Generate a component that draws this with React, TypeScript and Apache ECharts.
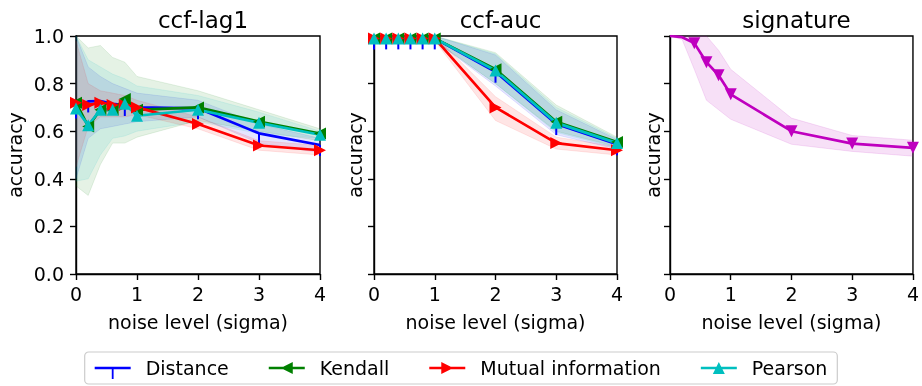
import React, { useEffect, useRef } from "react";
import * as echarts from "echarts";

const noiseLevels = [0, 0.2, 0.4, 0.6, 0.8, 1, 2, 3, 4];
const xTicks = [0, 1, 2, 3, 4];
const yTicks = [0, 0.2, 0.4, 0.6, 0.8, 1.0];
const panelTitles = ["ccf-lag1", "ccf-auc", "signature"];
const methodNames = ["Distance", "Kendall", "Mutual information", "Pearson"];

// ccf-lag1
const lagDistance = [0.7, 0.725, 0.727, 0.715, 0.71, 0.7, 0.696, 0.591, 0.542];
const lagDistanceHi = [1.0, 0.87, 0.83, 0.8, 0.78, 0.76, 0.73, 0.63, 0.57];
const lagDistanceLo = [0.4, 0.57, 0.61, 0.62, 0.63, 0.64, 0.66, 0.55, 0.51];
const lagKendall = [0.72, 0.62, 0.69, 0.69, 0.735, 0.69, 0.7, 0.64, 0.59];
const lagKendallHi = [1.0, 0.95, 0.96, 0.91, 0.89, 0.83, 0.77, 0.69, 0.61];
const lagKendallLo = [0.37, 0.33, 0.46, 0.55, 0.55, 0.575, 0.645, 0.6, 0.56];
const lagMI = [0.72, 0.71, 0.72, 0.71, 0.71, 0.7, 0.63, 0.54, 0.52];
const lagMIHi = [0.98, 0.8, 0.77, 0.76, 0.75, 0.73, 0.66, 0.56, 0.54];
const lagMILo = [0.45, 0.62, 0.66, 0.66, 0.66, 0.67, 0.61, 0.52, 0.5];
const lagPearson = [0.695, 0.625, 0.69, 0.69, 0.715, 0.665, 0.69, 0.635, 0.585];
const lagPearsonHi = [1.0, 0.9, 0.87, 0.84, 0.82, 0.79, 0.75, 0.68, 0.6];
const lagPearsonLo = [0.39, 0.4, 0.5, 0.57, 0.58, 0.6, 0.64, 0.59, 0.57];

// ccf-auc
const aucDistance = [0.99, 0.99, 0.99, 0.99, 0.99, 0.99, 0.85, 0.63, 0.545];
const aucDistanceHi = [1, 1, 1, 1, 1, 1, 0.92, 0.69, 0.565];
const aucDistanceLo = [0.98, 0.98, 0.98, 0.98, 0.98, 0.98, 0.79, 0.585, 0.525];
const aucKendall = [0.99, 0.99, 0.99, 0.99, 0.99, 0.99, 0.86, 0.64, 0.555];
const aucKendallHi = [1, 1, 1, 1, 1, 1, 0.93, 0.71, 0.575];
const aucKendallLo = [0.98, 0.98, 0.98, 0.98, 0.98, 0.98, 0.8, 0.6, 0.535];
const aucMI = [0.99, 0.99, 0.99, 0.99, 0.99, 0.99, 0.7, 0.55, 0.52];
const aucMIHi = [1, 1, 1, 1, 1, 1, 0.745, 0.575, 0.535];
const aucMILo = [0.98, 0.98, 0.98, 0.98, 0.98, 0.98, 0.645, 0.525, 0.5];
const aucPearson = [0.99, 0.99, 0.99, 0.99, 0.99, 0.99, 0.855, 0.635, 0.55];
const aucPearsonHi = [1, 1, 1, 1, 1, 1, 0.925, 0.7, 0.57];
const aucPearsonLo = [0.98, 0.98, 0.98, 0.98, 0.98, 0.98, 0.8, 0.595, 0.53];

// signature
const sigMean = [1.0, 0.995, 0.97, 0.89, 0.835, 0.755, 0.6, 0.548, 0.53];
const sigHi = [1.0, 1.0, 1.0, 1.0, 0.94, 0.86, 0.655, 0.582, 0.562];
const sigLo = [1.0, 0.985, 0.86, 0.73, 0.69, 0.65, 0.545, 0.515, 0.495];

const FONT = "DejaVu Sans";
const COLORS: Record<string, string> = {
  Distance: "#0000ff",
  Kendall: "#008000",
  "Mutual information": "#ff0000",
  Pearson: "#00bfbf",
  signature: "#bf00bf",
};
const BAND_RGB: Record<string, string> = {
  Distance: "0,0,255",
  Kendall: "0,128,0",
  "Mutual information": "255,0,0",
  Pearson: "0,191,191",
  signature: "191,0,191",
};

const MARKERS: Record<string, any> = {
  Distance: { symbol: "rect", symbolSize: [2, 11], symbolOffset: [0, 5.5], symbolRotate: 0 },
  Kendall: { symbol: "triangle", symbolSize: 12, symbolOffset: [0, 0], symbolRotate: 90 },
  "Mutual information": { symbol: "triangle", symbolSize: 12, symbolOffset: [0, 0], symbolRotate: -90 },
  Pearson: { symbol: "triangle", symbolSize: 12, symbolOffset: [0, 0], symbolRotate: 0 },
  signature: { symbol: "triangle", symbolSize: 12, symbolOffset: [0, 0], symbolRotate: 180 },
};

// legend handles: line + marker, drawn in a 36 x 22 box
const BOX = "M18,0h0.01v0.01h-0.01Z M18,21.99h0.01v0.01h-0.01Z ";
const LINE = "M0,9.65H36V12.35H0Z ";
const LEGEND_ICONS: Record<string, string> = {
  Distance: "path://" + BOX + LINE + "M17.1,9.65H18.9V22H17.1Z",
  Kendall: "path://" + BOX + LINE + "M12,11L24,5L24,17Z",
  "Mutual information": "path://" + BOX + LINE + "M24,11L12,17L12,5Z",
  Pearson: "path://" + BOX + LINE + "M18,5L24,17L12,17Z",
};

const panelData: { name: string; mean: number[]; hi: number[]; lo: number[] }[][] = [
  [
    { name: "Distance", mean: lagDistance, hi: lagDistanceHi, lo: lagDistanceLo },
    { name: "Kendall", mean: lagKendall, hi: lagKendallHi, lo: lagKendallLo },
    { name: "Mutual information", mean: lagMI, hi: lagMIHi, lo: lagMILo },
    { name: "Pearson", mean: lagPearson, hi: lagPearsonHi, lo: lagPearsonLo },
  ],
  [
    { name: "Distance", mean: aucDistance, hi: aucDistanceHi, lo: aucDistanceLo },
    { name: "Kendall", mean: aucKendall, hi: aucKendallHi, lo: aucKendallLo },
    { name: "Mutual information", mean: aucMI, hi: aucMIHi, lo: aucMILo },
    { name: "Pearson", mean: aucPearson, hi: aucPearsonHi, lo: aucPearsonLo },
  ],
  [{ name: "signature", mean: sigMean, hi: sigHi, lo: sigLo }],
];

const grids = [
  { left: 76, top: 36, width: 244, height: 238 },
  { left: 374, top: 36, width: 243, height: 238 },
  { left: 670, top: 36, width: 243, height: 238 },
];
const yNameGaps = [52, 10, 8];

function buildOption() {
  const series: any[] = [];
  panelData.forEach((panel, p) => {
    panel.forEach((s) => {
      const hi = s.hi;
      const lo = s.lo;
      const alpha = s.name === "signature" ? 0.12 : 0.1;
      series.push({
        type: "custom",
        name: `${s.name} band ${p}`,
        xAxisIndex: p,
        yAxisIndex: p,
        silent: true,
        z: 1,
        data: [[0, 0]],
        renderItem: (params: any, api: any) => {
          const upper = noiseLevels.map((x, i) => api.coord([x, hi[i]]));
          const lower = noiseLevels.map((x, i) => api.coord([x, lo[i]])).reverse();
          return {
            type: "polygon",
            shape: { points: upper.concat(lower) },
            style: {
              fill: `rgba(${BAND_RGB[s.name]},${alpha})`,
              stroke: `rgba(${BAND_RGB[s.name]},${alpha})`,
              lineWidth: 1,
            },
          };
        },
      });
    });
    panel.forEach((s) => {
      const m = MARKERS[s.name];
      const hideTop = s.name === "signature";
      series.push({
        type: "line",
        name: s.name,
        xAxisIndex: p,
        yAxisIndex: p,
        z: 3,
        data: noiseLevels.map((x, i) =>
          hideTop && s.mean[i] >= 0.99
            ? { value: [x, s.mean[i]], symbol: "none" }
            : { value: [x, s.mean[i]] }
        ),
        symbol: m.symbol,
        symbolSize: m.symbolSize,
        symbolOffset: m.symbolOffset,
        symbolRotate: m.symbolRotate,
        showAllSymbol: true,
        clip: true,
        lineStyle: { color: COLORS[s.name], width: 2.7 },
        itemStyle: { color: COLORS[s.name], borderWidth: 0 },
      });
    });
  });

  return {
    animation: false,
    textStyle: { fontFamily: FONT },
    title: panelTitles.map((t, i) => ({
      text: t,
      left: grids[i].left + grids[i].width / 2,
      top: 3,
      textAlign: "center",
      textStyle: { fontFamily: FONT, fontSize: 23, fontWeight: "normal", color: "#000" },
    })),
    legend: {
      data: methodNames.map((n) => ({ name: n, icon: LEGEND_ICONS[n] })),
      left: "center",
      bottom: 2,
      orient: "horizontal",
      itemWidth: 36,
      itemHeight: 22,
      itemGap: 40,
      padding: [5, 10],
      borderColor: "#cccccc",
      borderWidth: 1.2,
      borderRadius: 4,
      textStyle: { fontFamily: FONT, fontSize: 19, color: "#000", padding: [0, 0, 0, 10] },
    },
    grid: grids.map((g) => ({
      ...g,
      show: true,
      borderColor: "#000",
      borderWidth: 1.4,
      backgroundColor: "transparent",
      containLabel: false,
    })),
    xAxis: grids.map((_, i) => ({
      type: "value",
      gridIndex: i,
      min: xTicks[0],
      max: xTicks[xTicks.length - 1],
      interval: 1,
      name: "noise level (sigma)",
      nameLocation: "middle",
      nameGap: 38,
      nameTextStyle: { fontFamily: FONT, fontSize: 19, color: "#000" },
      axisLine: { show: true, lineStyle: { color: "#000", width: 1.4 } },
      axisTick: { show: true, inside: false, length: 6, lineStyle: { color: "#000", width: 1.4 } },
      axisLabel: { show: true, margin: 10, fontFamily: FONT, fontSize: 19, color: "#000" },
      splitLine: { show: false },
    })),
    yAxis: grids.map((_, i) => ({
      type: "value",
      gridIndex: i,
      min: yTicks[0],
      max: yTicks[yTicks.length - 1],
      interval: 0.2,
      name: "accuracy",
      nameLocation: "middle",
      nameRotate: 90,
      nameGap: yNameGaps[i],
      nameTextStyle: { fontFamily: FONT, fontSize: 19, color: "#000" },
      axisLine: { show: true, lineStyle: { color: "#000", width: 1.4 } },
      axisTick: { show: true, inside: false, length: 6, lineStyle: { color: "#000", width: 1.4 } },
      axisLabel: {
        show: i === 0,
        margin: 12,
        fontFamily: FONT,
        fontSize: 19,
        color: "#000",
        formatter: (v: number) => v.toFixed(1),
      },
      splitLine: { show: false },
    })),
    series,
  };
}

export default function App() {
  const ref = useRef<HTMLDivElement>(null);
  useEffect(() => {
    if (!ref.current) return;
    const chart = echarts.init(ref.current, undefined, { renderer: "svg" });
    chart.setOption(buildOption() as any);
    return () => chart.dispose();
  }, []);
  return (
    <div
      ref={ref}
      style={{ position: "fixed", left: 0, top: 0, width: 922, height: 386 }}
    />
  );
}
